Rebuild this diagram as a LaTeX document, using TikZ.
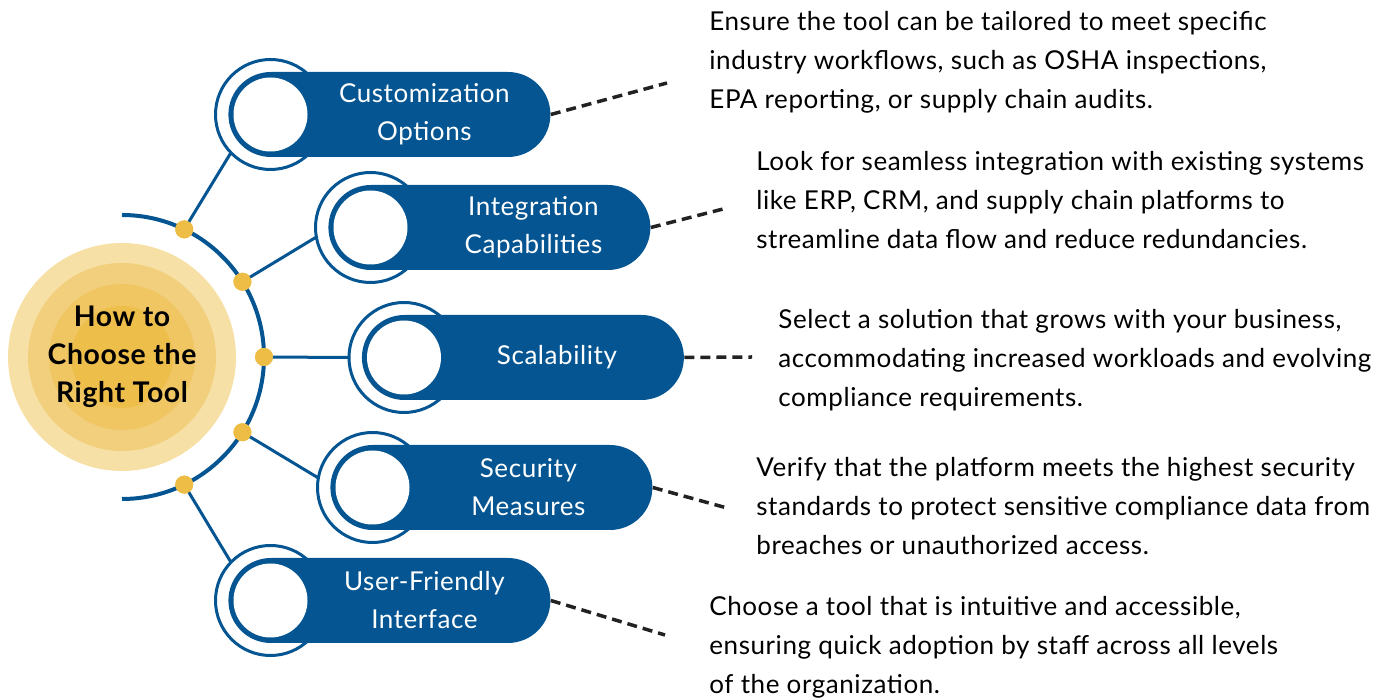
\documentclass[tikz,border=0pt]{standalone}
\usepackage{fontspec}
\setmainfont{Lato}[LetterSpace=2.2]
\usetikzlibrary{positioning}
\definecolor{toolblue}{HTML}{045592}
\definecolor{dotgold}{HTML}{EEBD45}
\definecolor{gold1}{HTML}{F7E0A5}
\definecolor{gold2}{HTML}{F2CF7D}
\definecolor{gold3}{HTML}{F0C663}
\definecolor{gold4}{HTML}{EEBE4A}
\definecolor{leadgray}{HTML}{222222}

\begin{document}
\begin{tikzpicture}[x=0.5pt,y=0.5pt,
  pill/.style={rectangle, fill=toolblue, rounded corners=21.25pt,
    minimum width=161pt, minimum height=42.5pt, inner sep=0pt, anchor=west},
  hole/.style={circle, fill=white, minimum size=37pt, inner sep=0pt},
  ring/.style={circle, draw=toolblue, line width=1.5pt, minimum size=55pt,
    inner sep=0pt, outer sep=0pt},
  pilltext/.style={text=white, align=center, font=\fontsize{13}{19}\selectfont},
  blurb/.style={anchor=north west, align=left, inner sep=0pt,
    font=\fontsize{13}{19.5}\selectfont},
  dot/.style={circle, fill=dotgold, minimum size=9pt, inner sep=0pt},
  spoke/.style={draw=toolblue, line width=1.5pt},
  lead/.style={draw=leadgray, line width=1.75pt, dash pattern=on 5pt off 3pt}]

\useasboundingbox (0,0) rectangle (1400,700);

\coordinate (hub) at (122,343);
\fill[gold1] (hub) circle[radius=114];
\fill[gold2] (hub) circle[radius=94];
\fill[gold3] (hub) circle[radius=73];
\fill[gold4] (hub) circle[radius=51];
\node[font=\bfseries\fontsize{14.2}{19}\selectfont, align=center] (title) at (hub)
  {How to\\Choose the\\Right Tool};

\draw[toolblue, line width=2pt] (122,485) arc[start angle=90, end angle=-90, radius=142];

\node[ring] (r1) at (270.5,585.5) {};
\node[ring] (r2) at (370.5,472.5) {};
\node[ring] (r3) at (404,342.5) {};
\node[ring] (r4) at (372.5,212.5) {};
\node[ring] (r5) at (270.5,99.5) {};

\node[dot] (d1) at ([shift={(64:142)}]hub) {};
\node[dot] (d2) at ([shift={(32:142)}]hub) {};
\node[dot] (d3) at ([shift={(0:142)}]hub) {};
\node[dot] (d4) at ([shift={(-32:142)}]hub) {};
\node[dot] (d5) at ([shift={(-64:142)}]hub) {};

\draw[spoke] (d1.center) -- (r1.224);
\draw[spoke] (d2.center) -- (r2.190);
\draw[spoke] (d3.center) -- (r3.180);
\draw[spoke] (d4.center) -- (r4.170);
\draw[spoke] (d5.center) -- (r5.136);

\node[dot] at (d1) {};
\node[dot] at (d2) {};
\node[dot] at (d3) {};
\node[dot] at (d4) {};
\node[dot] at (d5) {};

\node[pill] (p1) at ([xshift=-21.25pt]r1.center) {};
\node[pill] (p2) at ([xshift=-21.25pt]r2.center) {};
\node[pill] (p3) at ([xshift=-21.25pt]r3.center) {};
\node[pill] (p4) at ([xshift=-21.25pt]r4.center) {};
\node[pill] (p5) at ([xshift=-21.25pt]r5.center) {};

\node[hole] (h1) at (r1) {};
\node[hole] (h2) at (r2) {};
\node[hole] (h3) at (r3) {};
\node[hole] (h4) at (r4) {};
\node[hole] (h5) at (r5) {};

\node[pilltext] (t1) at ([xshift=17.5pt]p1.center) {Customization\\Options};
\node[pilltext] (t2) at ([xshift=22pt]p2.center) {Integration\\Capabilities};
\node[pilltext] (t3) at ([xshift=17pt]p3.center) {Scalability};
\node[pilltext] (t4) at ([xshift=18.5pt]p4.center) {Security\\Measures};
\node[pilltext] (t5) at ([xshift=17.5pt]p5.center) {User-Friendly\\Interface};

\coordinate (e1) at (667,617);
\coordinate (e2) at (727,492);
\coordinate (e3) at (752,343);
\coordinate (e4) at (727,192);
\coordinate (e5) at (665,65);
\draw[lead] (p1.east) -- (e1);
\draw[lead] (p2.east) -- (e2);
\draw[lead] (p3.east) -- (e3);
\draw[lead] (p4.east) -- (e4);
\draw[lead] (p5.east) -- (e5);

\node[blurb] (b1) at (709,689) {Ensure the tool can be tailored to meet specific\\
  industry workflows, such as OSHA inspections,\\EPA reporting, or supply chain audits.};
\node[blurb] (b2) at (756,549) {Look for seamless integration with existing systems\\
  like ERP, CRM, and supply chain platforms to\\streamline data flow and reduce redundancies.};
\node[blurb] (b3) at (778,391) {Select a solution that grows with your business,\\
  accommodating increased workloads and evolving\\compliance requirements.};
\node[blurb] (b4) at (756,243) {Verify that the platform meets the highest security\\
  standards to protect sensitive compliance data from\\breaches or unauthorized access.};
\node[blurb] (b5) at (709,104) {Choose a tool that is intuitive and accessible,\\
  ensuring quick adoption by staff across all levels\\of the organization.};
\end{tikzpicture}
\end{document}
